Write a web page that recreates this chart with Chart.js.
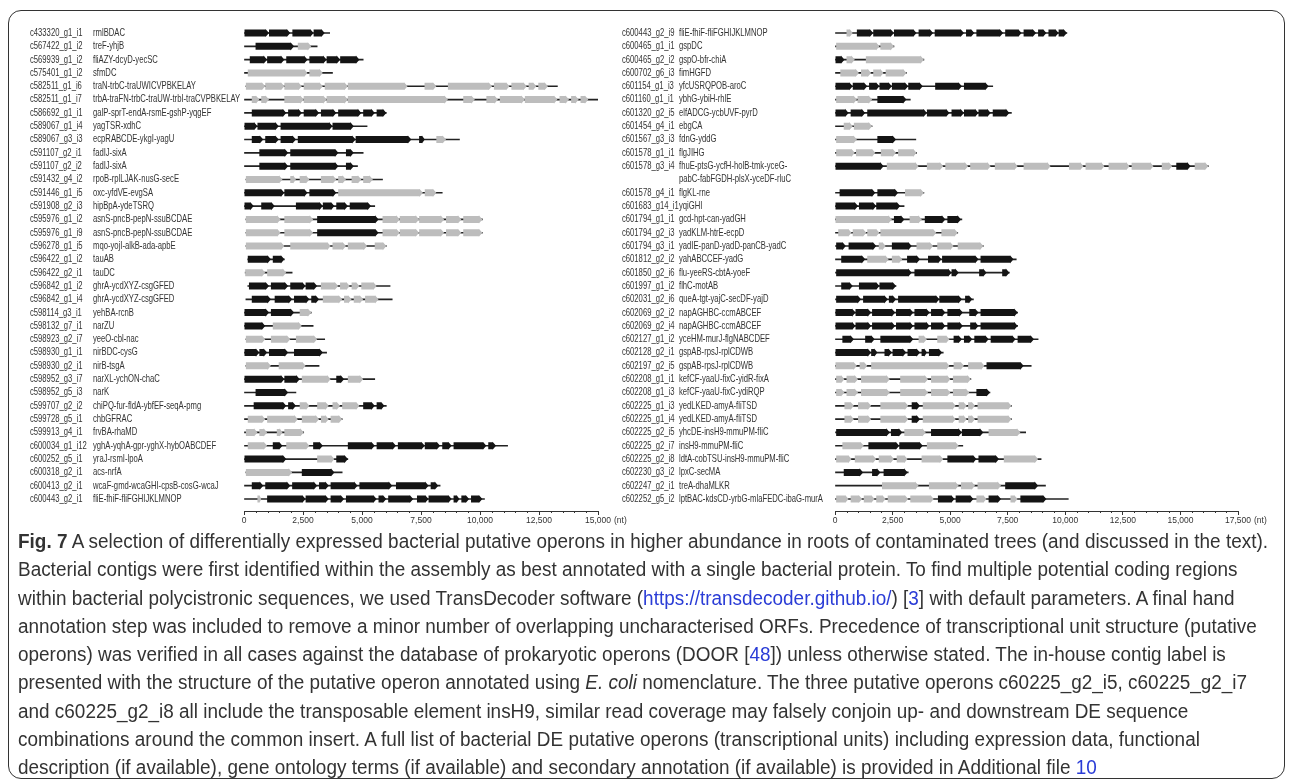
<!DOCTYPE html>
<html>
<head>
<meta charset="utf-8">
<script src="https://cdn.jsdelivr.net/npm/chart.js@4.4.1/dist/chart.umd.min.js"></script>
<style>
  body { margin: 0; background: #fff; width: 1292px; height: 780px; overflow: hidden; position: relative;
         font-family: 'Liberation Sans', Arial, sans-serif; color: #333; }
  #frame { position: absolute; left: 8px; top: 10px; width: 1277px; height: 769px; border: 1.3px solid #333;
           border-radius: 13px; box-sizing: border-box; }
  canvas { position: absolute; }
  #left { left: 20px; top: 20px; }
  #right { left: 615px; top: 20px; }
  #caption { position: absolute; left: 18px; top: 527px; font-size: 20px; line-height: 28.25px; white-space: nowrap;
             display: inline-block; transform-origin: 0 0; }
  #caption a { color: #2a3cd6; text-decoration: none; }
</style>
</head>
<body>
<div id="frame"></div>
<canvas id="left" width="630" height="511"></canvas>
<canvas id="right" width="665" height="511"></canvas>
<div id="caption">
<div><b>Fig. 7</b> A selection of differentially expressed bacterial putative operons in higher abundance in roots of contaminated trees (and discussed in the text).</div>
<div>Bacterial contigs were first identified within the assembly as best annotated with a single bacterial protein. To find multiple potential coding regions</div>
<div>within bacterial polycistronic sequences, we used TransDecoder software (<a>https://transdecoder.github.io/</a>) [<a>3</a>] with default parameters. A final hand</div>
<div>annotation step was included to remove a minor number of overlapping uncharacterised ORFs. Precedence of transcriptional unit structure (putative</div>
<div>operons) was verified in all cases against the database of prokaryotic operons (DOOR [<a>48</a>]) unless otherwise stated. The in-house contig label is</div>
<div>presented with the structure of the putative operon annotated using <i>E. coli</i> nomenclature. The three putative operons c60225_g2_i5, c60225_g2_i7</div>
<div>and c60225_g2_i8 all include the transposable element insH9, similar read coverage may falsely conjoin up- and downstream DE sequence</div>
<div>combinations around the common insert. A full list of bacterial DE putative operons (transcriptional units) including expression data, functional</div>
<div>description (if available), gene ontology terms (if available) and secondary annotation (if available) is provided in Additional file <a>10</a></div>
</div>
<script>
// ---- left panel ----
const leftContigs = ['c433320_g1_i1', 'c567422_g1_i2', 'c569939_g1_i2', 'c575401_g1_i2', 'c582511_g1_i6', 'c582511_g1_i7',
  'c586692_g1_i1', 'c589067_g1_i4', 'c589067_g3_i3', 'c591107_g2_i1', 'c591107_g2_i2', 'c591432_g4_i2', 'c591446_g1_i5',
  'c591908_g2_i3', 'c595976_g1_i2', 'c595976_g1_i9', 'c596278_g1_i5', 'c596422_g1_i2', 'c596422_g2_i1', 'c596842_g1_i2',
  'c596842_g1_i4', 'c598114_g3_i1', 'c598132_g7_i1', 'c598923_g2_i7', 'c598930_g1_i1', 'c598930_g2_i1', 'c598952_g3_i7',
  'c598952_g5_i3', 'c599707_g2_i2', 'c599728_g5_i1', 'c599913_g4_i1', 'c600034_g1_i12', 'c600252_g5_i1', 'c600318_g2_i1',
  'c600413_g2_i1', 'c600443_g2_i1'];
const leftOperons = ['rmlBDAC', 'treF-yhjB', 'fliAZY-dcyD-yecSC', 'sfmDC', 'traN-trbC-traUWICVPBKELAY',
  'trbA-traFN-trbC-traUW-trbI-traCVPBKELAY', 'galP-sprT-endA-rsmE-gshP-yqgEF', 'yagTSR-xdhC', 'ecpRABCDE-ykgI-yagU',
  'fadIJ-sixA', 'fadIJ-sixA', 'rpoB-rplLJAK-nusG-secE', 'oxc-yfdVE-evgSA', 'hipBpA-ydeTSRQ', 'asnS-pncB-pepN-ssuBCDAE',
  'asnS-pncB-pepN-ssuBCDAE', 'mqo-yojI-alkB-ada-apbE', 'tauAB', 'tauDC', 'ghrA-ycdXYZ-csgGFED', 'ghrA-ycdXYZ-csgGFED',
  'yehBA-rcnB', 'narZU', 'yeeO-cbl-nac', 'nirBDC-cysG', 'nirB-tsgA', 'narXL-ychON-chaC', 'narK',
  'chiPQ-fur-fldA-ybfEF-seqA-pmg', 'chbGFRAC', 'frvBA-rhaMD', 'yghA-yqhA-gpr-yghX-hybOABCDEF', 'yraJ-rsmI-lpoA',
  'acs-nrfA', 'wcaF-gmd-wcaGHI-cpsB-cosG-wcaJ', 'fliE-fhiF-fliFGHIJKLMNOP'];
// contig extent (nt)
const leftSpans = [[0,3630],[0,3100],[0,5050],[0,3750],[80,13280],[0,15000],[0,6030],[0,5215],[0,9130],[0,5050],[0,4810],
  [80,5870],[0,8400],[0,5540],[80,10100],[80,10100],[80,6030],[160,1710],[50,2040],[160,6190],[80,6280],[0,2850],[0,2930],
  [80,3420],[0,3500],[80,3180],[0,5540],[0,2200],[0,6030],[0,4160],[0,2530],[0,11170],[0,4400],[80,4160],[0,8310],[0,10190]];
// genes in higher abundance (black)
const leftBlack = [
  [[0,1060],[1060,1960],[2050,2950],[2950,3420]],
  [[490,2120]],
  [[245,980],[980,1710],[1790,2690],[2770,3500],[3500,4075],[4075,4890]],
  [],
  [],
  [],
  [[330,1790],[1870,2450],[2530,3180],[3260,3910],[3990,4970],[5050,5540],[5620,6030]],
  [[0,570],[570,1470],[1550,3750],[3750,4650]],
  [[330,815],[900,1470],[1550,2200],[2280,4730],[4730,7090],[7420,7660]],
  [[650,1870],[1960,4000],[4320,4650]],
  [[650,1870],[1960,4000],[4320,4650]],
  [],
  [[0,1710],[1710,2690],[2770,3910]],
  [[0,410],[730,1300],[2200,3340],[3340,3830],[3910,4400],[4480,5380]],
  [[3100,5700]],
  [[3100,5700]],
  [],
  [[160,1140],[1220,1710]],
  [],
  [[210,1060],[1140,1870],[1960,2610],[2610,3100]],
  [[330,1140],[1300,2040],[2120,2770],[2850,3180]],
  [[0,1060],[1140,2120]],
  [[0,900]],
  [],
  [[0,650],[650,980],[1060,1870],[2120,3340]],
  [],
  [[0,1710],[1710,2360],[3910,4240]],
  [[490,1870]],
  [[410,1790],[1870,2200],[5050,5540],[5620,5950]],
  [],
  [],
  [[1220,1630],[2930,3340],[4400,5540],[5620,6440],[6520,7660],[7660,8310],[8400,8800],[8880,10270],[10350,10680]],
  [[0,1790],[3910,4400]],
  [[2450,3830]],
  [[330,815],[900,1960],[2040,3100],[3180,3590],[3670,4810],[4890,6280],[6440,7820],[7910,8230]],
  [[980,2610],[2610,3590],[3670,4240],[4320,5620],[5700,6030],[6110,7170],[7330,7820],[7820,8800],[8880,9130],[9210,9540],[9620,10100]]
];
// other genes (grey)
const leftGray = [
  [],
  [[2280,2850]],
  [],
  [[160,2690],[2770,3340]],
  [[80,900],[900,1710],[1710,2450],[2530,3340],[3420,4400],[4400,6930],[7650,8150],[8640,10510],[10590,11250],[11330,11980],[12060,12390],[12470,12880]],
  [[330,650],[730,1060],[1710,2530],[2530,3500],[3500,4400],[4400,8640],[9290,9780],[10270,10760],[10840,11900],[11900,13280],[13370,13770],[13860,14180],[14260,14590]],
  [],
  [],
  [[8150,8560]],
  [],
  [],
  [[80,1630],[1960,2200],[2360,2770],[3260,3910],[3990,4320],[4560,4970],[5050,5460]],
  [[3990,7580],[7660,8150]],
  [],
  [[80,1550],[1710,2930],[5870,6600],[6600,7420],[7420,8480],[8560,9210],[9290,10100]],
  [[80,1550],[1710,2930],[5870,6600],[6600,7420],[7420,8480],[8560,9210],[9290,10100]],
  [[80,1710],[1960,3670],[3750,4320],[4400,5215],[5540,6030]],
  [],
  [[50,900],[980,1790]],
  [[3260,3990],[4070,4480],[4560,4890],[4970,5620]],
  [[3340,4160],[4240,4560],[4650,5050],[5130,5700]],
  [[2360,2850]],
  [[1220,2450]],
  [[80,900],[1140,1960],[2200,3100]],
  [],
  [[80,1140],[1470,2610]],
  [[2450,3670],[4400,5050]],
  [],
  [[2360,2770],[3100,3590],[3750,4070],[4160,4890]],
  [[160,900],[980,2280],[2450,3180],[3260,3590],[3670,4160]],
  [[80,570],[650,980],[1390,1630],[1710,2530]],
  [[160,980],[1790,2770]],
  [[3100,3830]],
  [[80,2040]],
  [],
  [[570,730]]
];
const leftMax = 15000;

// ---- right panel ----
const rightContigs = ['c600443_g2_i9', 'c600465_g1_i1', 'c600465_g2_i2', 'c600702_g6_i3', 'c601154_g1_i3', 'c601160_g1_i1',
  'c601320_g2_i5', 'c601454_g4_i1', 'c601567_g3_i3', 'c601578_g1_i1', 'c601578_g3_i4', '', 'c601578_g4_i1', 'c601683_g14_i1',
  'c601794_g1_i1', 'c601794_g2_i3', 'c601794_g3_i1', 'c601812_g2_i2', 'c601850_g2_i6', 'c601997_g1_i2', 'c602031_g2_i6',
  'c602069_g2_i2', 'c602069_g2_i4', 'c602127_g1_i2', 'c602128_g2_i1', 'c602197_g2_i5', 'c602208_g1_i1', 'c602208_g1_i3',
  'c602225_g1_i3', 'c602225_g1_i4', 'c602225_g2_i5', 'c602225_g2_i7', 'c602225_g2_i8', 'c602230_g3_i2', 'c602247_g2_i1',
  'c602252_g5_i2'];
const rightOperons = ['fliE-fhiF-fliFGHIJKLMNOP', 'gspDC', 'gspO-bfr-chiA', 'fimHGFD', 'yfcUSRQPOB-aroC', 'ybhG-ybiH-rhlE',
  'elfADCG-ycbUVF-pyrD', 'ebgCA', 'fdnG-yddG', 'flgJIHG', 'fhuE-ptsG-ycfH-holB-tmk-yceG-', 'pabC-fabFGDH-plsX-yceDF-rluC',
  'flgKL-rne', 'yqiGHI', 'gcd-hpt-can-yadGH', 'yadKLM-htrE-ecpD', 'yadIE-panD-yadD-panCB-yadC', 'yahABCCEF-yadG',
  'flu-yeeRS-cbtA-yoeF', 'flhC-motAB', 'queA-tgt-yajC-secDF-yajD', 'napAGHBC-ccmABCEF', 'napAGHBC-ccmABCEF',
  'yceHM-murJ-flgNABCDEF', 'gspAB-rpsJ-rplCDWB', 'gspAB-rpsJ-rplCDWB', 'kefCF-yaaU-fixC-yidR-fixA', 'kefCF-yaaU-fixC-ydiRQP',
  'yedLKED-amyA-fliTSD', 'yedLKED-amyA-fliTSD', 'yhcDE-insH9-mmuPM-fliC', 'insH9-mmuPM-fliC', 'ldtA-cobTSU-insH9-mmuPM-fliC',
  'lpxC-secMA', 'treA-dhaMLKR', 'lptBAC-kdsCD-yrbG-mlaFEDC-ibaG-murA'];
const rightSpans = [[0,10070],[0,2560],[0,3860],[0,3100],[0,6850],[0,3270],[0,7660],[0,1610],[0,3510],[0,3540],[0,16210],null,
  [0,3860],[0,3000],[0,5510],[0,5330],[0,6440],[0,7870],[0,7570],[0,2650],[0,6010],[0,7930],[0,7930],[0,8820],[0,4700],
  [0,8520],[0,5900],[0,6730],[0,7660],[0,7660],[0,8280],[0,5550],[0,8950],[0,3180],[0,9140],[0,10130]];
const rightBlack = [
  [[950,1660],[1660,2560],[2560,3540],[3630,4260],[4330,5600],[5690,6050],[6140,7300],[7390,8100],[8190,8730],[8820,9180],[9270,9710],[9710,10070]],
  [],
  [[0,410]],
  [],
  [[0,770],[770,1400],[1480,1930],[1930,2470],[2470,3180],[3180,3810],[4350,5510],[5600,6670]],
  [[1840,3100]],
  [[0,590],[680,1310],[1400,3990],[3990,4970],[5060,5600],[5600,6230],[6230,6760],[6850,7570]],
  [],
  [[1840,2650]],
  [],
  [[0,2110],[14820,15440]],
  [],
  [[200,1750],[1840,2740]],
  [[0,1000],[1040,1790],[1790,2830]],
  [[2560,3010],[3900,4790],[4880,5470]],
  [],
  [[50,470],[590,1790],[2470,3330]],
  [[270,1310],[3130,3690],[4040,4620],[4650,6230],[6320,7750]],
  [[50,3330],[3450,5060],[5060,5370],[6260,6580],[7260,7570]],
  [[270,770],[1040,1930],[1930,2650]],
  [[50,1130],[1220,2290],[2340,2650],[2740,4530],[4530,5510],[5650,5960]],
  [[0,890],[890,1570],[1610,2610],[2650,3400],[3450,4110],[4170,4790],[4880,5550],[5830,6230],[6320,7930]],
  [[0,890],[890,1570],[1610,2610],[2650,3400],[3450,4110],[4170,4790],[4880,5550],[5870,6230],[6320,7930]],
  [[320,820],[1310,1720],[1970,3400],[5150,5510],[5600,5960],[6050,6670],[6760,7840],[7930,8640]],
  [[0,1570],[1570,1840],[2150,2470],[2500,3090],[3150,3690],[3760,3990],[4080,4650]],
  [[6580,8190]],
  [],
  [[6140,6730]],
  [[3330,3690]],
  [[3330,3690]],
  [[50,2380],[2430,2920],[4170,5510],[5510,6440]],
  [[1450,2790],[2790,3810]],
  [[4880,6140],[6230,7120]],
  [[380,1220],[1610,1970],[2110,3150]],
  [[7390,8820]],
  [[4470,5190],[5240,6010],[6670,7210],[8050,9180]]
];
const rightGray = [
  [[500,770]],
  [[50,1930],[1970,2560]],
  [[500,860],[1340,3860]],
  [[230,1040],[1130,1570],[1660,2110],[2200,3100]],
  [],
  [[50,950],[980,1610]],
  [],
  [[380,770],[820,1610]],
  [[50,950]],
  [[50,860],[910,1750],[1990,2650],[2740,3540]],
  [[2250,3630],[3990,4700],[4790,5780],[5870,6760],[6940,7930],[8190,9360],[10160,10790],[10880,11700],[11880,12790],[12880,13830],[14190,14640],[15620,16210]],
  [],
  [[3040,3860]],
  [],
  [[0,2470],[3240,3770]],
  [[140,720],[770,1360],[1400,1930],[1970,4400],[4620,5330]],
  [[1900,2200],[3540,4260],[4440,5150],[5330,6440]],
  [[1400,2330],[2470,2920]],
  [],
  [],
  [],
  [],
  [],
  [[3630,3990],[4440,4970]],
  [],
  [[0,950],[1070,1400],[1570,4970],[5150,5600],[5780,6490]],
  [[50,410],[500,1000],[1130,2380],[2830,4040],[4170,5010],[5120,5900]],
  [[50,410],[500,1000],[1130,2380],[2830,4040],[4170,5010],[5120,5830]],
  [[410,820],[1000,1570],[1970,3180],[3810,5240],[5370,5720],[5780,6080],[6190,7660]],
  [[410,820],[1000,1570],[1970,3180],[3810,5240],[5370,5720],[5780,6080],[6190,7660]],
  [[3010,3940],[6670,8050]],
  [[320,1250],[3990,5370]],
  [[50,720],[860,1790],[1900,2560],[2680,3150],[3760,4700],[7330,8820]],
  [],
  [[2040,3630],[4080,5370],[5470,6080],[6190,7210]],
  [[50,590],[680,1180],[1250,1720],[1790,2200],[2290,3180],[3270,4290],[6140,6580],[7620,7930]]
];
const rightMax = 17500;

const FONT = "'Liberation Sans', Arial, sans-serif";
Chart.defaults.font.family = FONT;
Chart.defaults.color = '#333';

// draws each gene bar as a right-pointing arrow
const geneArrows = {
  id: 'geneArrows',
  afterDatasetsDraw(chart) {
    const ctx = chart.ctx;
    chart.data.datasets.forEach((ds, i) => {
      if (!ds.geneColor) return;
      chart.getDatasetMeta(i).data.forEach(el => {
        const p = el.getProps(['x', 'base', 'y', 'height'], true);
        const x0 = Math.min(p.x, p.base), x1 = Math.max(p.x, p.base);
        const h = p.height / 2, tip = Math.min(3.5, (x1 - x0) / 2);
        ctx.fillStyle = ds.geneColor;
        ctx.beginPath();
        ctx.moveTo(x0, p.y - h);
        ctx.lineTo(x1 - tip, p.y - h);
        ctx.lineTo(x1 - tip, p.y - h - 0.6);
        ctx.lineTo(x1, p.y);
        ctx.lineTo(x1 - tip, p.y + h + 0.6);
        ctx.lineTo(x1 - tip, p.y + h);
        ctx.lineTo(x0, p.y + h);
        ctx.closePath();
        ctx.fill();
      });
    });
  }
};

// minor ticks every 500 nt and the "(nt)" unit after the last label
const axisExtras = {
  id: 'axisExtras',
  afterDraw(chart) {
    const sx = chart.scales.x, ctx = chart.ctx, y0 = chart.chartArea.bottom;
    ctx.save();
    ctx.strokeStyle = '#333';
    ctx.lineWidth = 1;
    for (let v = 500; v < sx.max; v += 500) {
      if (v % 2500 === 0) continue;
      const px = Math.round(sx.getPixelForValue(v)) + 0.5;
      ctx.beginPath(); ctx.moveTo(px, y0); ctx.lineTo(px, y0 + 2); ctx.stroke();
    }
    ctx.font = '8.5px ' + FONT;
    ctx.fillStyle = '#333';
    ctx.textBaseline = 'middle';
    const last = sx.getPixelForValue(sx.max);
    const w = ctx.measureText(sx.max.toLocaleString('en-US')).width;
    ctx.fillText('(nt)', last + w / 2 + 3, y0 + 10);
    ctx.restore();
  }
};

function toPoints(rows) {
  const out = [];
  rows.forEach((genes, i) => genes.forEach(g => out.push({ x: g, y: i })));
  return out;
}

function makePanel(id, contigs, operons, spans, black, gray, xmax, padLeft, padRight, contigWidth, operonWidth) {
  const n = contigs.length;
  const yAxis = (weight, width) => ({
    type: 'linear', position: 'left', reverse: true, min: -0.5, max: n - 0.1, weight: weight,
    offset: false, grid: { display: false, offset: false }, border: { display: false },
    afterFit: s => { s.width = width; },
    ticks: { display: false }
  });
  // row labels, narrowed to match the condensed face of the original
  const rowLabels = {
    id: 'rowLabels',
    afterDraw(chart) {
      const ctx = chart.ctx;
      ctx.save();
      ctx.font = '10.5px ' + FONT;
      ctx.fillStyle = '#333';
      ctx.textBaseline = 'middle';
      [['yc', contigs], ['yo', operons]].forEach(([axisId, names]) => {
        const s = chart.scales[axisId];
        names.forEach((name, i) => {
          ctx.save();
          ctx.translate(s.left, s.getPixelForValue(i));
          ctx.scale(0.73, 1);
          ctx.fillText(name, 0, 0);
          ctx.restore();
        });
      });
      ctx.restore();
    }
  };
  const lines = [];
  spans.forEach((s, i) => { if (s) lines.push({ x: s, y: i }); });
  return new Chart(document.getElementById(id), {
    type: 'bar',
    data: {
      datasets: [
        { data: lines, yAxisID: 'yo', backgroundColor: '#222', barThickness: 1, grouped: false },
        { data: toPoints(gray), yAxisID: 'yo', backgroundColor: 'rgba(0,0,0,0)', geneColor: '#bdbdbd', barThickness: 7, grouped: false },
        { data: toPoints(black), yAxisID: 'yo', backgroundColor: 'rgba(0,0,0,0)', geneColor: '#141414', barThickness: 7, grouped: false }
      ]
    },
    options: {
      indexAxis: 'y',
      responsive: false,
      animation: false,
      layout: { padding: { left: padLeft, top: 6.35, right: padRight, bottom: 0 } },
      plugins: { legend: { display: false }, tooltip: { enabled: false } },
      scales: {
        x: {
          type: 'linear', min: 0, max: xmax,
          grid: { drawOnChartArea: false, tickLength: 4, color: '#333' },
          border: { color: '#333', width: 1 },
          afterFit: s => { s.height = 20; },
          ticks: { stepSize: 2500, maxRotation: 0, autoSkip: false, padding: 1, font: { size: 8.5 } }
        },
        yc: yAxis(2, contigWidth),
        yo: yAxis(1, operonWidth)
      }
    },
    plugins: [geneArrows, axisExtras, rowLabels]
  });
}

makePanel('left', leftContigs, leftOperons, leftSpans, leftBlack, leftGray, leftMax, 10, 52, 63, 151);
makePanel('right', rightContigs, rightOperons, rightSpans, rightBlack, rightGray, rightMax, 7, 42, 57, 156);

// fit the caption block to the width of the original text column
const cap = document.getElementById('caption');
cap.style.transform = 'scaleX(' + (1250 / cap.getBoundingClientRect().width) + ')';
</script>
</body>
</html>
